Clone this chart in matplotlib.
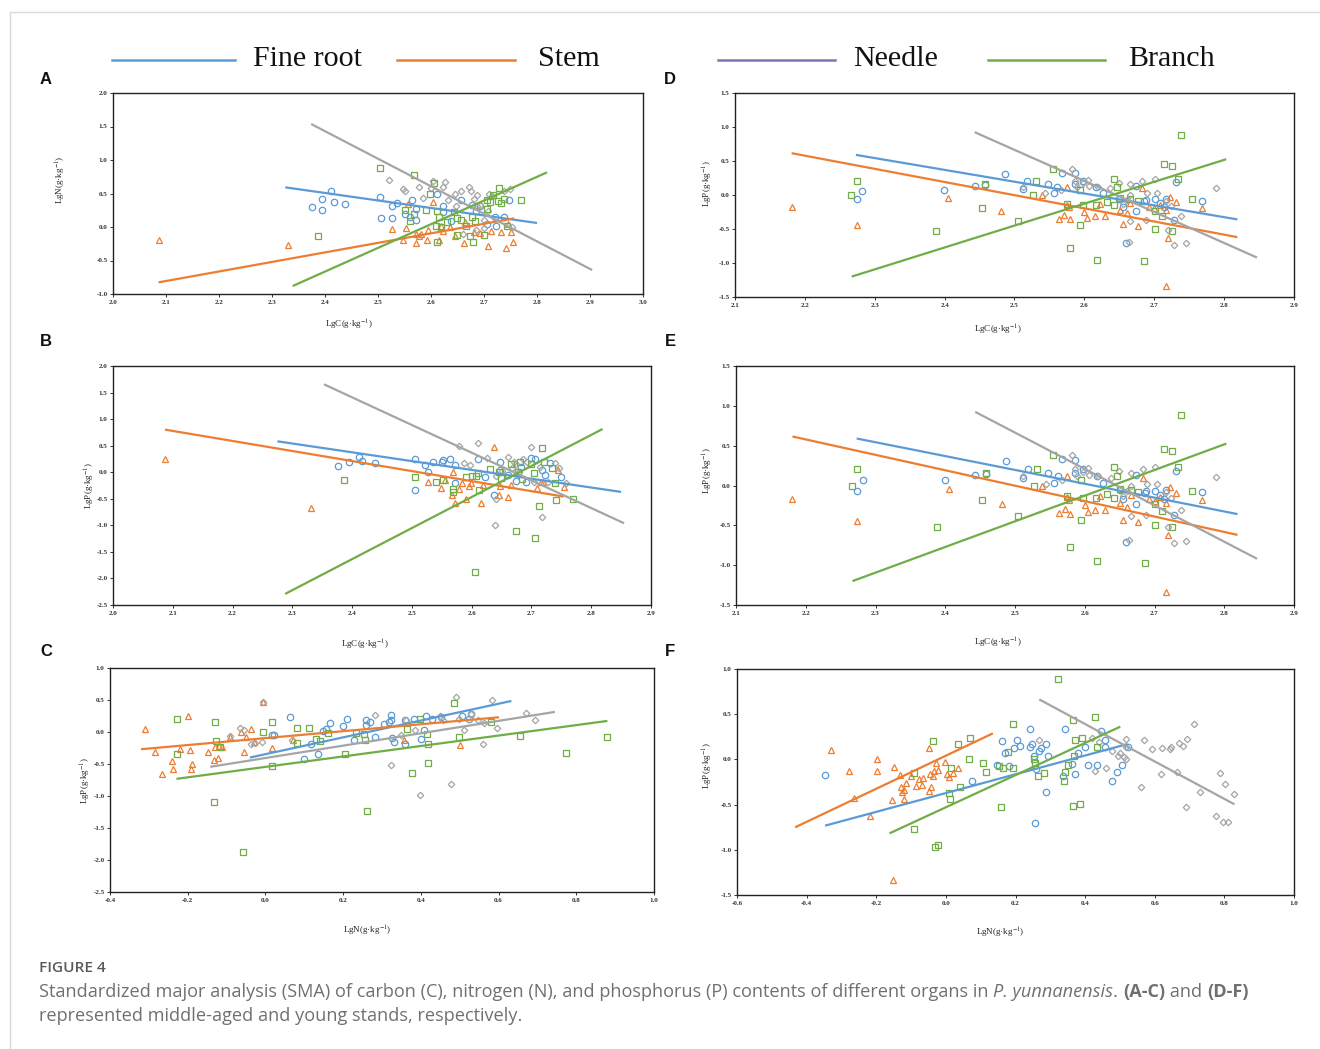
import matplotlib
matplotlib.use("Agg")
import matplotlib.pyplot as plt
from matplotlib.lines import Line2D
from matplotlib import font_manager
import numpy as np

plt.rcParams['mathtext.fontset'] = 'stix'

# ---------------- DATA ----------------
organs = ["Fine root", "Stem", "Needle", "Branch"]
legend_colors = ["#5B9BD5", "#ED7D31", "#8571B5", "#70AD47"]
point_colors = ["#5B9BD5", "#ED7D31", "#A5A5A5", "#70AD47"]

# Panel A : LgC (x) vs LgN (y), middle-aged
A_root_x = [2.376, 2.394, 2.394, 2.411, 2.417, 2.438, 2.504, 2.505, 2.527, 2.527, 2.536, 2.551, 2.561, 2.564, 2.571, 2.571,
            2.611, 2.622, 2.623, 2.637, 2.656, 2.678, 2.684, 2.692, 2.705, 2.722, 2.737, 2.747, 2.72]
A_root_y = [0.30, 0.42, 0.25, 0.53, 0.38, 0.35, 0.45, 0.13, 0.32, 0.14, 0.36, 0.20, 0.15, 0.41, 0.27, 0.11,
            0.50, 0.32, 0.22, 0.09, 0.40, 0.33, 0.24, 0.31, 0.04, 0.01, 0.15, 0.41, 0.15]
A_stem_x = [2.086, 2.331, 2.527, 2.548, 2.552, 2.556, 2.571, 2.571, 2.577, 2.581, 2.592, 2.594, 2.604, 2.615, 2.619,
            2.622, 2.635, 2.645, 2.662, 2.665, 2.681, 2.693, 2.708, 2.714, 2.732, 2.742, 2.750, 2.755, 2.746]
A_stem_y = [-0.20, -0.27, -0.03, -0.20, -0.02, 0.35, -0.24, -0.11, -0.14, -0.10, -0.20, -0.04, 0.38, -0.20, 0.01,
            -0.06, 0.00, -0.13, -0.24, 0.07, -0.08, -0.09, -0.29, -0.06, -0.07, -0.31, -0.08, -0.23, 0.04]
A_needle_x = [2.521, 2.547, 2.551, 2.577, 2.585, 2.600, 2.604, 2.622, 2.626, 2.633, 2.645, 2.647, 2.657, 2.671, 2.675,
              2.682, 2.686, 2.693, 2.700, 2.708, 2.710, 2.716, 2.700, 2.686, 2.738, 2.749, 2.753, 2.660, 2.685]
A_needle_y = [0.70, 0.57, 0.54, 0.59, 0.44, 0.58, 0.69, 0.60, 0.67, 0.40, 0.49, 0.32, 0.53, 0.59, 0.54,
              0.42, 0.48, 0.33, 0.10, 0.24, 0.50, 0.47, -0.01, 0.32, 0.54, 0.57, 0.00, -0.10, -0.05]
A_branch_x = [2.387, 2.504, 2.568, 2.551, 2.561, 2.568, 2.590, 2.598, 2.605, 2.611, 2.615, 2.610, 2.611, 2.619, 2.630,
              2.643, 2.649, 2.649, 2.656, 2.666, 2.677, 2.680, 2.683, 2.674, 2.700, 2.705, 2.705, 2.712, 2.717, 2.727,
              2.728, 2.733, 2.737, 2.743, 2.769]
A_branch_y = [-0.13, 0.88, 0.77, 0.26, 0.09, 0.20, 0.25, 0.50, 0.65, 0.24, 0.15, 0.02, -0.23, 0.00, 0.08,
              0.23, 0.13, -0.12, 0.10, 0.02, 0.15, -0.23, 0.09, -0.13, -0.12, 0.27, 0.40, 0.38, 0.48, 0.39,
              0.58, 0.36, 0.42, 0.01, 0.41]
A_line_x = [[2.325, 2.800], [2.086, 2.757], [2.374, 2.904], [2.339, 2.819]]
A_line_y = [[0.592, 0.060], [-0.826, 0.129], [1.537, -0.642], [-0.881, 0.816]]

# Panel B : LgC (x) vs LgP (y), middle-aged
B_root_x = [2.376, 2.394, 2.411, 2.416, 2.438, 2.505, 2.505, 2.522, 2.527, 2.535, 2.550, 2.552, 2.564, 2.572, 2.572,
            2.611, 2.623, 2.637, 2.648, 2.661, 2.682, 2.691, 2.699, 2.706, 2.717, 2.723, 2.731, 2.749, 2.674, 2.648]
B_root_y = [0.124, 0.187, 0.287, 0.212, 0.181, 0.243, -0.34, 0.143, 0.011, 0.193, 0.193, 0.23, 0.25, 0.14, -0.196,
            0.256, -0.083, -0.43, 0.20, -0.05, 0.105, -0.177, 0.262, 0.243, 0.043, -0.05, 0.168, -0.095, -0.158, 0.043]
B_stem_x = [2.087, 2.332, 2.527, 2.548, 2.555, 2.568, 2.567, 2.572, 2.578, 2.583, 2.591, 2.595, 2.599, 2.615, 2.619,
            2.637, 2.646, 2.648, 2.661, 2.665, 2.709, 2.716, 2.744, 2.755, 2.720]
B_stem_y = [0.25, -0.666, -0.177, -0.29, -0.145, 0.011, -0.434, -0.572, -0.309, -0.208, -0.509, -0.258, -0.196, -0.572, -0.246,
            0.469, -0.434, -0.258, -0.459, -0.24, -0.30, -0.19, 0.043, -0.27, -0.18]
B_needle_x = [2.579, 2.587, 2.598, 2.611, 2.625, 2.639, 2.641, 2.651, 2.661, 2.671, 2.674, 2.686, 2.693, 2.700, 2.704,
              2.714, 2.718, 2.727, 2.739, 2.746, 2.757, 2.641, 2.680, 2.668]
B_needle_y = [0.50, 0.18, 0.137, 0.545, 0.275, -0.999, -0.51, 0.03, 0.28, 0.187, 0.156, 0.25, 0.20, 0.469, -0.177,
              0.093, -0.836, -0.177, 0.168, 0.074, -0.196, -0.07, 0.011, 0.074]
B_branch_x = [2.387, 2.505, 2.540, 2.552, 2.568, 2.568, 2.590, 2.601, 2.605, 2.608, 2.611, 2.613, 2.630, 2.645, 2.649,
              2.666, 2.674, 2.678, 2.681, 2.685, 2.700, 2.704, 2.706, 2.712, 2.718, 2.721, 2.734, 2.739, 2.741, 2.769]
B_branch_y = [-0.146, -0.083, -0.177, -0.145, -0.315, -0.365, -0.083, -0.064, -1.883, -0.07, -0.02, -0.334, 0.061, 0.011, -0.114,
              0.156, -1.105, 0.011, 0.20, -0.133, 0.156, -0.02, -1.243, -0.635, 0.45, 0.20, 0.074, -0.196, -0.528, -0.497]
B_line_x = [[2.275, 2.850], [2.087, 2.754], [2.353, 2.855], [2.288, 2.819]]
B_line_y = [[0.582, -0.371], [0.802, -0.459], [1.655, -0.961], [-2.291, 0.814]]

# Panel C : LgN (x) vs LgP (y), middle-aged
C_root_x = [0.062, 0.098, 0.118, 0.135, 0.149, 0.156, 0.166, 0.199, 0.210, 0.227, 0.258, 0.260, 0.268, 0.283, 0.305,
            0.319, 0.323, 0.324, 0.327, 0.332, 0.358, 0.358, 0.382, 0.400, 0.408, 0.413, 0.429, 0.453, 0.507, 0.530,
            0.523, 0.018, 0.023]
C_root_y = [0.236, -0.425, -0.191, -0.336, 0.017, 0.054, 0.142, 0.09, 0.199, -0.128, 0.194, 0.106, 0.158, -0.076, 0.132,
            0.158, 0.262, 0.184, -0.087, -0.154, -0.191, 0.184, 0.199, -0.113, 0.028, 0.246, 0.199, 0.241, 0.246, 0.288,
            0.204, -0.05, -0.04]
C_stem_x = [-0.310, -0.285, -0.267, -0.240, -0.239, -0.220, -0.200, -0.193, -0.191, -0.188, -0.148, -0.133, -0.130, -0.123,
            -0.120, -0.112, -0.091, -0.064, -0.055, -0.051, -0.036, -0.007, 0.017, 0.070, 0.356, 0.502, -0.030]
C_stem_y = [0.043, -0.31, -0.664, -0.456, -0.571, -0.264, 0.246, -0.284, -0.571, -0.503, -0.31, -0.43, -0.233, -0.414,
            -0.222, -0.233, -0.076, 0.002, -0.31, -0.076, 0.054, 0.47, -0.243, -0.118, -0.118, -0.196, -0.155]
C_needle_x = [-0.091, -0.065, -0.056, -0.038, -0.028, -0.009, -0.007, 0.069, 0.281, 0.322, 0.349, 0.362, 0.385, 0.398,
              0.448, 0.477, 0.490, 0.497, 0.511, 0.528, 0.546, 0.560, 0.562, 0.582, 0.596, 0.671, 0.693, 0.456]
C_needle_y = [-0.066, 0.064, 0.038, -0.18, -0.165, -0.155, 0.47, -0.118, 0.262, -0.508, -0.05, 0.184, 0.038, -0.992,
              0.246, -0.82, 0.548, 0.199, 0.038, 0.288, 0.184, -0.18, 0.142, 0.496, 0.064, 0.298, 0.184, 0.184]
C_branch_x = [-0.227, -0.227, -0.133, -0.129, -0.126, -0.118, -0.057, -0.007, 0.017, 0.018, 0.081, 0.082, 0.112, 0.130,
              0.140, 0.162, 0.204, 0.232, 0.253, 0.256, 0.261, 0.364, 0.377, 0.398, 0.416, 0.418, 0.418, 0.486, 0.499,
              0.581, 0.655, 0.773, 0.878]
C_branch_y = [0.199, -0.336, -1.101, 0.152, -0.144, -0.233, -1.881, 0.002, 0.152, -0.529, 0.064, -0.17, 0.069, -0.113,
              -0.139, -0.014, -0.347, -0.014, -0.024, -0.128, -1.236, 0.054, -0.633, 0.21, -0.024, -0.191, -0.492, 0.459, -0.076,
              0.152, -0.061, -0.321, -0.076]
C_line_x = [[-0.040, 0.633], [-0.320, 0.601], [-0.142, 0.745], [-0.229, 0.880]]
C_line_y = [[-0.399, 0.485], [-0.269, 0.230], [-0.544, 0.314], [-0.732, 0.173]]

# Panel D : LgC (x) vs LgP (y), young
D_root_x = [2.274, 2.282, 2.399, 2.443, 2.458, 2.487, 2.512, 2.518, 2.548, 2.556, 2.561, 2.568, 2.586, 2.586, 2.598,
            2.617, 2.626, 2.650, 2.655, 2.659, 2.674, 2.674, 2.686, 2.701, 2.708, 2.717, 2.714, 2.728, 2.731, 2.768, 2.688]
D_root_y = [-0.064, 0.064, 0.074, 0.133, 0.143, 0.31, 0.088, 0.211, 0.157, 0.034, 0.123, 0.329, 0.319, 0.162, 0.211,
            0.113, 0.034, -0.059, -0.172, -0.713, 0.133, -0.236, -0.089, -0.064, -0.123, -0.059, -0.172, -0.369, 0.187, -0.084, -0.074]
D_stem_x = [2.181, 2.274, 2.405, 2.481, 2.539, 2.575, 2.578, 2.571, 2.575, 2.563, 2.579, 2.600, 2.604, 2.615, 2.622,
            2.629, 2.651, 2.655, 2.661, 2.666, 2.677, 2.683, 2.692, 2.700, 2.708, 2.717, 2.720, 2.717, 2.722, 2.731, 2.768]
D_stem_y = [-0.172, -0.448, -0.04, -0.236, -0.005, 0.123, -0.177, -0.295, -0.148, -0.349, -0.359, -0.251, -0.335, -0.31, -0.138,
            -0.31, -0.217, -0.433, -0.271, -0.123, -0.458, 0.098, -0.172, -0.197, -0.148, -0.222, -0.625, -1.343, -0.025, -0.099, -0.187]
D_needle_x = [2.512, 2.544, 2.567, 2.582, 2.586, 2.589, 2.598, 2.605, 2.606, 2.619, 2.637, 2.649, 2.655, 2.661, 2.664,
              2.666, 2.666, 2.666, 2.683, 2.689, 2.688, 2.701, 2.704, 2.717, 2.720, 2.724, 2.728, 2.738, 2.745, 2.788]
D_needle_y = [0.123, 0.024, 0.074, 0.388, 0.206, 0.123, 0.172, 0.221, 0.138, 0.113, 0.098, 0.182, -0.138, -0.074, -0.689,
              0.162, 0.0, -0.384, 0.211, 0.024, -0.369, 0.236, 0.024, -0.084, -0.517, -0.162, -0.728, -0.305, -0.70, 0.108]
D_branch_x = [2.266, 2.274, 2.388, 2.453, 2.458, 2.505, 2.527, 2.531, 2.555, 2.575, 2.579, 2.594, 2.594, 2.598, 2.616,
              2.618, 2.632, 2.642, 2.642, 2.646, 2.651, 2.666, 2.677, 2.686, 2.701, 2.701, 2.711, 2.714, 2.725, 2.725,
              2.734, 2.738, 2.754]
D_branch_y = [0.0, 0.201, -0.527, -0.187, 0.157, -0.379, 0.0, 0.211, 0.383, -0.138, -0.777, -0.438, 0.074, -0.153, -0.153,
              -0.95, -0.103, 0.231, -0.153, 0.123, -0.04, -0.059, -0.084, -0.974, -0.236, -0.502, -0.315, 0.457, 0.428, -0.527,
              0.231, 0.88, -0.064]
D_line_x = [[2.273, 2.819], [2.181, 2.819], [2.443, 2.847], [2.267, 2.803]]
D_line_y = [[0.590, -0.359], [0.615, -0.620], [0.924, -0.920], [-1.200, 0.526]]

# Panel E : LgC (x) vs LgP (y) -- the published panel repeats the values of D
E_root_x, E_root_y = D_root_x, D_root_y
E_stem_x, E_stem_y = D_stem_x, D_stem_y
E_needle_x, E_needle_y = D_needle_x, D_needle_y
E_branch_x, E_branch_y = D_branch_x, D_branch_y
E_line_x, E_line_y = D_line_x, D_line_y

# Panel F : LgN (x) vs LgP (y), young
F_root_x = [-0.347, 0.074, 0.148, 0.162, 0.171, 0.180, 0.196, 0.205, 0.213, 0.242, 0.243, 0.247, 0.254, 0.258, 0.256,
            0.268, 0.274, 0.289, 0.289, 0.294, 0.336, 0.342, 0.361, 0.370, 0.379, 0.399, 0.408, 0.433, 0.447, 0.456,
            0.458, 0.476, 0.492, 0.505, 0.524]
F_root_y = [-0.169, -0.239, -0.062, 0.204, 0.067, -0.073, 0.13, 0.215, 0.148, 0.333, 0.141, 0.167, 0.041, -0.11, -0.707,
            0.097, 0.122, 0.167, -0.357, 0.041, -0.184, 0.333, -0.055, -0.165, 0.075, 0.133, -0.058, -0.066, 0.318, 0.215,
            0.133, -0.235, -0.143, -0.066, 0.141]
F_stem_x = [-0.331, -0.277, -0.263, -0.219, -0.199, -0.199, -0.150, -0.151, -0.156, -0.131, -0.128, -0.127, -0.119, -0.119,
            -0.114, -0.100, -0.085, -0.076, -0.068, -0.065, -0.049, -0.048, -0.046, -0.043, -0.037, -0.034, -0.028, -0.024,
            -0.002, 0.004, 0.009, 0.020, 0.034]
F_stem_y = [0.104, -0.128, -0.431, -0.622, 0.004, -0.128, -0.088, -1.334, -0.449, -0.173, -0.302, -0.357, -0.338, -0.442,
            -0.257, -0.184, -0.294, -0.22, -0.283, -0.202, -0.346, 0.123, -0.162, -0.309, -0.18, -0.128, -0.036, -0.117,
            -0.025, -0.165, -0.191, -0.154, -0.099]
F_needle_x = [0.268, 0.419, 0.427, 0.439, 0.461, 0.478, 0.495, 0.501, 0.513, 0.516, 0.518, 0.516, 0.561, 0.570, 0.592,
              0.621, 0.617, 0.644, 0.647, 0.663, 0.669, 0.680, 0.691, 0.693, 0.712, 0.729, 0.777, 0.786, 0.797, 0.803,
              0.809, 0.828]
F_needle_y = [0.215, 0.24, -0.128, 0.189, -0.091, 0.093, 0.038, 0.067, 0.03, 0.226, 0.0, 0.133, -0.302, 0.215, 0.115,
              0.122, -0.165, 0.115, 0.133, -0.136, 0.178, 0.148, -0.523, 0.222, 0.392, -0.364, -0.626, -0.147, -0.696, -0.276,
              -0.696, -0.383]
F_branch_x = [-0.091, -0.091, -0.037, -0.032, -0.023, 0.009, 0.011, 0.014, 0.034, 0.040, 0.068, 0.065, 0.108, 0.114,
              0.152, 0.157, 0.163, 0.178, 0.194, 0.194, 0.254, 0.256, 0.265, 0.281, 0.321, 0.340, 0.342, 0.351, 0.365,
              0.365, 0.368, 0.371, 0.385, 0.391, 0.429, 0.433]
F_branch_y = [-0.154, -0.774, 0.207, -0.965, -0.947, -0.368, -0.438, -0.092, 0.167, -0.309, 0.24, 0.004, -0.036, -0.143,
              -0.069, -0.523, -0.091, 0.078, 0.388, -0.099, 0.001, -0.036, -0.18, -0.147, 0.886, -0.239, -0.136, -0.062, 0.436,
              -0.516, 0.041, 0.215, -0.497, 0.24, 0.465, 0.133]
F_line_x = [[-0.347, 0.522], [-0.433, 0.135], [0.268, 0.829], [-0.162, 0.501]]
F_line_y = [[-0.733, 0.170], [-0.751, 0.288], [0.664, -0.497], [-0.818, 0.362]]

# axis ticks
A_xticks = [2.0, 2.1, 2.2, 2.3, 2.4, 2.5, 2.6, 2.7, 2.8, 2.9, 3.0]
A_yticks = [-1.0, -0.5, 0.0, 0.5, 1.0, 1.5, 2.0]
B_xticks = [2.0, 2.1, 2.2, 2.3, 2.4, 2.5, 2.6, 2.7, 2.8, 2.9]
B_yticks = [-2.5, -2.0, -1.5, -1.0, -0.5, 0.0, 0.5, 1.0, 1.5, 2.0]
C_xticks = [-0.4, -0.2, 0.0, 0.2, 0.4, 0.6, 0.8, 1.0]
C_yticks = [-2.5, -2.0, -1.5, -1.0, -0.5, 0.0, 0.5, 1.0]
D_xticks = [2.1, 2.2, 2.3, 2.4, 2.5, 2.6, 2.7, 2.8, 2.9]
D_yticks = [-1.5, -1.0, -0.5, 0.0, 0.5, 1.0, 1.5]
F_xticks = [-0.6, -0.4, -0.2, 0.0, 0.2, 0.4, 0.6, 0.8, 1.0]
F_yticks = [-1.5, -1.0, -0.5, 0.0, 0.5, 1.0]

# ---------------- FIGURE ----------------
W, H = 1320, 1049
fig = plt.figure(figsize=(W / 100, H / 100), dpi=100)
fig.patch.set_facecolor("white")

def fx(x):
    return x / W

def fy(y):
    return 1 - y / H

# card border
fig.add_artist(Line2D([fx(10), fx(1320)], [fy(12), fy(12)], color="#d9d9d9", lw=1))
fig.add_artist(Line2D([fx(10), fx(10)], [fy(12), fy(1049)], color="#d9d9d9", lw=1))

SERIF = ["Liberation Serif", "DejaVu Serif"]
markers = ["o", "^", "D", "s"]
msizes = [4.6, 4.6, 3.3, 4.4]

def panel(box, xs, ys, lx, ly, xticks, yticks, xlabel, ylabel, xlab_pos, ylab_pos, letter, letter_pos):
    l, t, r, b = box
    ax = fig.add_axes([fx(l), fy(b), (r - l) / W, (b - t) / H])
    for i in range(4):
        ax.plot(xs[i], ys[i], linestyle="none", marker=markers[i], ms=msizes[i],
                mfc="none", mec=point_colors[i], mew=0.9, zorder=3)
    for i in range(4):
        ax.plot(lx[i], ly[i], color=point_colors[i], lw=1.6, zorder=4, solid_capstyle="butt")
    ax.set_xlim(xticks[0], xticks[-1])
    ax.set_ylim(yticks[0], yticks[-1])
    ax.set_xticks(xticks)
    ax.set_yticks(yticks)
    ax.set_xticklabels(["%.1f" % v for v in xticks], fontsize=5, family=SERIF, fontweight="bold")
    ax.set_yticklabels(["%.1f" % v for v in yticks], fontsize=5, family=SERIF, fontweight="bold")
    ax.tick_params(direction="out", length=2, width=0.7, pad=2, colors="#333333")
    for s in ax.spines.values():
        s.set_linewidth(1.0)
        s.set_color("#222222")
    fig.text(fx(xlab_pos[0]), fy(xlab_pos[1]), xlabel, fontsize=6.5, family=SERIF,
             ha="center", va="center", color="#222222")
    fig.text(fx(ylab_pos[0]), fy(ylab_pos[1]), ylabel, fontsize=6.5, family=SERIF,
             ha="center", va="center", rotation=90, color="#222222")
    fig.text(fx(letter_pos[0]), fy(letter_pos[1]), letter, fontsize=12, fontweight="bold",
             family=["Liberation Sans", "DejaVu Sans"], ha="center", va="center", color="#111111")
    return ax

lab_C = "LgC(g·kg$^{-1}$)"
lab_N = "LgN(g·kg$^{-1}$)"
lab_P = "LgP(g·kg$^{-1}$)"

panel((113, 93, 643, 294),
      [A_root_x, A_stem_x, A_needle_x, A_branch_x], [A_root_y, A_stem_y, A_needle_y, A_branch_y],
      A_line_x, A_line_y, A_xticks, A_yticks, lab_C, lab_N, (349, 325), (61, 180), "A", (46, 80))
panel((113, 366, 651, 605),
      [B_root_x, B_stem_x, B_needle_x, B_branch_x], [B_root_y, B_stem_y, B_needle_y, B_branch_y],
      B_line_x, B_line_y, B_xticks, B_yticks, lab_C, lab_P, (365, 645), (90, 485), "B", (46, 341))
panel((110, 668, 654, 892),
      [C_root_x, C_stem_x, C_needle_x, C_branch_x], [C_root_y, C_stem_y, C_needle_y, C_branch_y],
      C_line_x, C_line_y, C_xticks, C_yticks, lab_N, lab_P, (367, 931), (86, 780), "C", (46, 651))
panel((735, 93, 1294, 297),
      [D_root_x, D_stem_x, D_needle_x, D_branch_x], [D_root_y, D_stem_y, D_needle_y, D_branch_y],
      D_line_x, D_line_y, D_xticks, D_yticks, lab_C, lab_P, (998, 330), (708, 183), "D", (670, 80))
panel((736, 366, 1294, 605),
      [E_root_x, E_stem_x, E_needle_x, E_branch_x], [E_root_y, E_stem_y, E_needle_y, E_branch_y],
      E_line_x, E_line_y, D_xticks, D_yticks, lab_C, lab_P, (998, 643), (708, 470), "E", (670, 341))
panel((737, 669, 1294, 895),
      [F_root_x, F_stem_x, F_needle_x, F_branch_x], [F_root_y, F_stem_y, F_needle_y, F_branch_y],
      F_line_x, F_line_y, F_xticks, F_yticks, lab_N, lab_P, (1000, 933), (708, 765), "F", (670, 651))

# legend on top
leg_line_x = [(112, 235), (397, 515), (718, 835), (988, 1105)]
leg_text_x = [253, 538, 853, 1128]
for i in range(4):
    fig.add_artist(Line2D([fx(leg_line_x[i][0]), fx(leg_line_x[i][1])], [fy(60), fy(60)],
                          color=legend_colors[i], lw=1.8))
    fig.text(fx(leg_text_x[i]), fy(59), organs[i], fontsize=21.6, family=SERIF,
             ha="left", va="center", color="#111111")

# caption
names = {f.name for f in font_manager.fontManager.ttflist}
CAP = "Open Sans" if "Open Sans" in names else "DejaVu Sans"
renderer = fig.canvas.get_renderer()
line1 = [("Standardized major analysis (SMA) of carbon (C), nitrogen (N), and phosphorus (P) contents of different organs in ", "normal", "normal"),
         ("P. yunnanensis", "italic", "normal"),
         (". ", "normal", "normal"),
         ("(A-C)", "normal", "bold"),
         (" and ", "normal", "normal"),
         ("(D-F)", "normal", "bold")]
line2 = [("represented middle-aged and young stands, respectively.", "normal", "normal")]

probe = fig.text(0, 0, "".join(p[0] for p in line1), fontsize=12, family=CAP)
wprobe = probe.get_window_extent(renderer).width
probe.remove()
cap_fs = 12 * (1224 / wprobe) * 0.985

def write_line(pieces, x0, y, fs, color):
    x = x0
    for s, st, wt in pieces:
        t = fig.text(fx(x), fy(y), s, fontsize=fs, family=CAP, fontstyle=st, fontweight=wt,
                     color=color, ha="left", va="center")
        x += t.get_window_extent(renderer).width

fig.text(fx(39), fy(968), "FIGURE 4", fontsize=cap_fs * 0.85, family=CAP, color="#5a5a5a",
         fontweight="semibold", ha="left", va="center")
write_line(line1, 39, 992, cap_fs, "#707070")
write_line(line2, 39, 1016, cap_fs, "#707070")

fig.savefig("out.png", dpi=100, facecolor="white")
